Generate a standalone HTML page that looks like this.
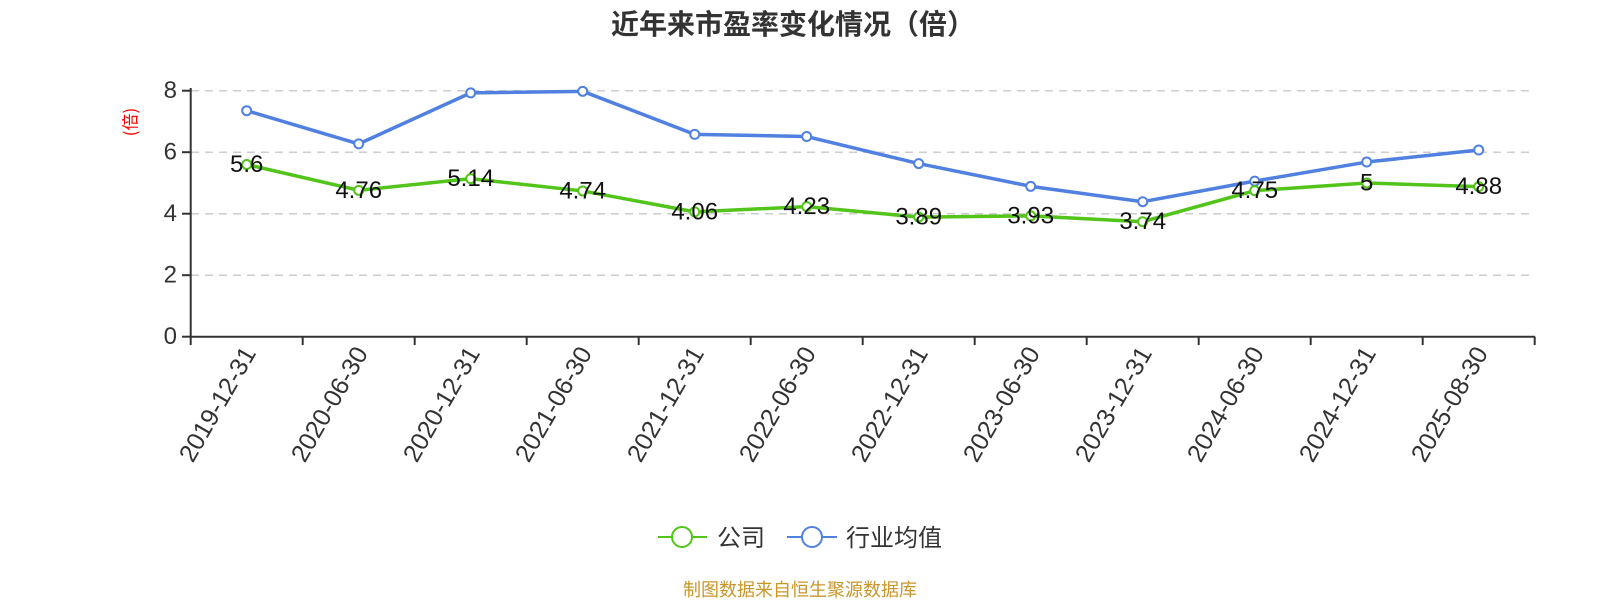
<!DOCTYPE html>
<html><head><meta charset="utf-8"><style>
html,body{margin:0;padding:0;background:#fff;}
svg{display:block;font-family:"Liberation Sans","Noto Sans CJK SC",sans-serif;}
</style></head><body>
<svg width="1600" height="600" viewBox="0 0 1600 600" xmlns="http://www.w3.org/2000/svg">
<text x="793" y="34" text-anchor="middle" font-size="28" font-weight="bold" fill="#333" font-family="'Noto Sans CJK SC',sans-serif">近年来市盈率变化情况（倍）</text>
<text transform="translate(129,122) rotate(-90)" text-anchor="middle" dominant-baseline="central" font-size="17" fill="#f00" font-family="'Noto Sans CJK SC',sans-serif">(倍)</text>
<g stroke="#ccc" stroke-width="1.5" stroke-dasharray="8,6">
<line x1="191" x2="1535" y1="90.7" y2="90.7"/>
<line x1="191" x2="1535" y1="152.2" y2="152.2"/>
<line x1="191" x2="1535" y1="213.7" y2="213.7"/>
<line x1="191" x2="1535" y1="275.2" y2="275.2"/>
</g>
<g font-size="24" fill="#333" text-anchor="end" dominant-baseline="central">
<text x="177" y="90.7">8</text><text x="177" y="152.2">6</text><text x="177" y="213.7">4</text><text x="177" y="275.2">2</text><text x="177" y="336.7">0</text>
</g>
<g stroke="#333" stroke-width="2">
<line x1="190.7" y1="88" x2="190.7" y2="337"/>
<line x1="182" y1="90.7" x2="190.7" y2="90.7"/>
<line x1="182" y1="152.2" x2="190.7" y2="152.2"/>
<line x1="182" y1="213.7" x2="190.7" y2="213.7"/>
<line x1="182" y1="275.2" x2="190.7" y2="275.2"/>
<line x1="182" y1="336.7" x2="190.7" y2="336.7"/>
<line x1="190.7" y1="336.7" x2="1535" y2="336.7"/>
</g>
<g id="ticks" stroke="#333" stroke-width="2"></g>
<g id="xl" font-size="25" fill="#333" text-anchor="end"></g>
<polyline id="pb" fill="none" stroke="#5080e0" stroke-width="3.5" stroke-linejoin="round"/>
<polyline id="pg" fill="none" stroke="#52c41a" stroke-width="3.5" stroke-linejoin="round"/>
<g id="cb"></g><g id="cg"></g>
<g id="lb" font-size="24" fill="#111" text-anchor="middle" dominant-baseline="central"></g>
<line x1="658" y1="537" x2="707" y2="537" stroke="#52c41a" stroke-width="2"/>
<circle cx="682" cy="537" r="10" fill="#fff" stroke="#52c41a" stroke-width="2"/>
<text x="717" y="546" font-size="24" fill="#333" font-family="'Noto Sans CJK SC',sans-serif">公司</text>
<line x1="787" y1="537" x2="837" y2="537" stroke="#5080e0" stroke-width="2"/>
<circle cx="812" cy="537" r="10" fill="#fff" stroke="#5080e0" stroke-width="2"/>
<text x="846" y="546" font-size="24" fill="#333" font-family="'Noto Sans CJK SC',sans-serif">行业均值</text>
<text x="800" y="596" text-anchor="middle" font-size="18" fill="#c8962a" font-family="'Noto Sans CJK SC',sans-serif">制图数据来自恒生聚源数据库</text>
</svg>
<script>
var ns="http://www.w3.org/2000/svg";
var dates=["2019-12-31","2020-06-30","2020-12-31","2021-06-30","2021-12-31","2022-06-30","2022-12-31","2023-06-30","2023-12-31","2024-06-30","2024-12-31","2025-08-30"];
var g=[5.6,4.76,5.14,4.74,4.06,4.23,3.89,3.93,3.74,4.75,5,4.88];
var b=[7.35,6.27,7.93,7.98,6.58,6.51,5.63,4.89,4.39,5.06,5.68,6.07];
function X(i){return 246.7+112*i;}function Y(v){return 336.7-30.75*v;}
function el(t,a,p){var e=document.createElementNS(ns,t);for(var k in a)e.setAttribute(k,a[k]);document.getElementById(p).appendChild(e);return e;}
for(var i=0;i<=12;i++){el("line",{x1:190.7+112*i,x2:190.7+112*i,y1:336.7,y2:345},"ticks");}
var pb=[],pg=[];
for(var i=0;i<12;i++){
 var x=X(i);
 var t=el("text",{transform:"translate("+(x+10)+",353) rotate(-60)"},"xl");t.textContent=dates[i];
 pb.push(x+","+Y(b[i]));pg.push(x+","+Y(g[i]));
 el("circle",{cx:x,cy:Y(b[i]),r:4.5,fill:"#fff",stroke:"#5080e0","stroke-width":2},"cb");
 el("circle",{cx:x,cy:Y(g[i]),r:4.5,fill:"#fff",stroke:"#52c41a","stroke-width":2},"cg");
 var l=el("text",{x:x,y:Y(g[i])},"lb");l.textContent=g[i];
}
document.getElementById("pb").setAttribute("points",pb.join(" "));
document.getElementById("pg").setAttribute("points",pg.join(" "));
</script>
</body></html>
